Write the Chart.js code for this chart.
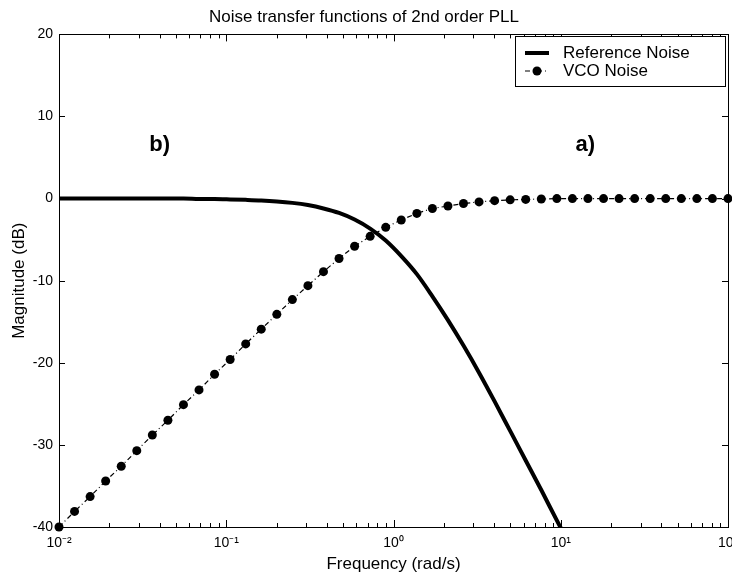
<!DOCTYPE html>
<html>
<head>
<meta charset="utf-8">
<title>Noise transfer functions of 2nd order PLL</title>
<script src="https://cdn.jsdelivr.net/npm/chart.js@4.4.1/dist/chart.umd.min.js"></script>
<style>
  html, body { margin: 0; padding: 0; background: #fff; overflow: hidden; }
  #wrap { width: 750px; height: 575px; }
</style>
</head>
<body>
<div id="wrap"><canvas id="pll" width="750" height="575"></canvas></div>
<script>
// --- data ---
// frequency of every plotted sample (rad/s), log spaced like the VCO markers
const freq = [0.01, 0.01239, 0.01535, 0.01901, 0.02356, 0.02918, 0.03615, 0.04479, 0.05549, 0.06874,
  0.08516, 0.1055, 0.1307, 0.1619, 0.2006, 0.2485, 0.3078, 0.3814, 0.4725, 0.5853,
  0.7251, 0.8983, 1.113, 1.379, 1.708, 2.116, 2.621, 3.247, 4.023, 4.984,
  6.174, 7.649, 9.476, 11.74, 14.54, 18.02, 22.32, 27.65, 34.26, 42.44,
  52.58, 65.14, 80.69, 100];

// magnitude in dB
const vcoNoise = [-40, -38.1, -36.3, -34.4, -32.6, -30.7, -28.8, -27.0, -25.1, -23.3,
  -21.4, -19.6, -17.7, -15.9, -14.1, -12.3, -10.6, -8.9, -7.3, -5.8,
  -4.6, -3.5, -2.6, -1.8, -1.2, -0.9, -0.6, -0.4, -0.25, -0.15,
  -0.1, -0.05, 0, 0, 0, 0, 0, 0, 0, 0,
  0, 0, 0, 0];

// solid curve, runs off the bottom of the axes just past 10 rad/s
const refNoise = [0, 0, 0, 0, 0, 0, 0, 0, 0, -0.05,
  -0.06, -0.1, -0.15, -0.22, -0.34, -0.52, -0.79, -1.2, -1.75, -2.55,
  -3.65, -5.1, -7.0, -9.2, -11.9, -14.8, -17.9, -21.2, -24.7, -28.3,
  -31.9, -35.5, -39.2, -42.8];

const decadeTicks = [0.01, 0.1, 1, 10, 100];
const decadeLabels = ['10\u207B\u00B2', '10\u207B\u00B9', '10\u2070', '10\u00B9', '10\u00B2'];
const magTicks = [-40, -30, -20, -10, 0, 10, 20];

// panel letters, placed in data units
const notes = [
  { text: 'b)', x: 0.04, y: 6.5 },
  { text: 'a)', x: 14, y: 6.5 }
];

const FONT = '"Liberation Sans", Arial, Helvetica, sans-serif';
Chart.defaults.font.family = FONT;
Chart.defaults.color = '#000';

// matlab style box with ticks pointing inwards
const frameTicks = {
  id: 'frameTicks',
  afterDatasetsDraw(chart) {
    const { ctx, chartArea: a, scales: { x, y } } = chart;
    ctx.save();
    ctx.strokeStyle = '#000';
    ctx.lineWidth = 1;
    ctx.beginPath();
    decadeTicks.forEach(d => {
      for (let m = 1; m <= 9; m++) {
        const v = d * m;
        if (v > x.max + 1e-9) break;
        const px = Math.round(x.getPixelForValue(v)) + 0.5;
        const len = m === 1 ? 7 : 4;
        ctx.moveTo(px, a.bottom); ctx.lineTo(px, a.bottom - len);
        ctx.moveTo(px, a.top); ctx.lineTo(px, a.top + len);
      }
    });
    magTicks.forEach(v => {
      const py = Math.round(y.getPixelForValue(v)) + 0.5;
      ctx.moveTo(a.left, py); ctx.lineTo(a.left + 6, py);
      ctx.moveTo(a.right, py); ctx.lineTo(a.right - 6, py);
    });
    ctx.stroke();
    ctx.strokeRect(Math.round(a.left) + 0.5, Math.round(a.top) + 0.5,
      Math.round(a.right - a.left), Math.round(a.bottom - a.top));

    // b) / a)
    ctx.fillStyle = '#000';
    ctx.font = 'bold 22px ' + FONT;
    ctx.textAlign = 'center';
    ctx.textBaseline = 'middle';
    notes.forEach(n => ctx.fillText(n.text, x.getPixelForValue(n.x), y.getPixelForValue(n.y)));
    ctx.restore();
  }
};

// legend box in the top right corner of the axes
const boxLegend = {
  id: 'boxLegend',
  afterDraw(chart) {
    const { ctx, chartArea: a } = chart;
    const w = 210, h = 50;
    const left = Math.round(a.right) - 213, top = Math.round(a.top) + 2;
    ctx.save();
    ctx.fillStyle = '#fff';
    ctx.fillRect(left, top, w, h);
    ctx.strokeStyle = '#000';
    ctx.lineWidth = 1;
    ctx.strokeRect(left + 0.5, top + 0.5, w, h);
    chart.data.datasets.forEach((ds, i) => {
      const cy = top + 17 + i * 18;
      ctx.strokeStyle = ds.borderColor;
      ctx.lineWidth = ds.borderWidth;
      ctx.setLineDash(ds.borderDash || []);
      ctx.beginPath();
      ctx.moveTo(left + 10, cy);
      ctx.lineTo(left + 34, cy);
      ctx.stroke();
      ctx.setLineDash([]);
      if (ds.pointRadius) {
        ctx.fillStyle = ds.pointBackgroundColor;
        ctx.beginPath();
        ctx.arc(left + 22, cy, ds.pointRadius, 0, Math.PI * 2);
        ctx.fill();
      }
      ctx.fillStyle = '#000';
      ctx.font = '17px ' + FONT;
      ctx.textAlign = 'left';
      ctx.textBaseline = 'middle';
      ctx.fillText(ds.label, left + 48, cy);
    });
    ctx.restore();
  }
};

new Chart(document.getElementById('pll'), {
  type: 'line',
  data: {
    datasets: [
      {
        label: 'Reference Noise',
        data: refNoise.map((v, i) => ({ x: freq[i], y: v })),
        borderColor: '#000',
        borderWidth: 4,
        pointRadius: 0,
        cubicInterpolationMode: 'monotone',
        clip: 0
      },
      {
        label: 'VCO Noise',
        data: vcoNoise.map((v, i) => ({ x: freq[i], y: v })),
        borderColor: '#000',
        borderWidth: 1.2,
        borderDash: [5, 3, 1, 3],
        pointRadius: 4.5,
        pointBackgroundColor: '#000',
        pointBorderWidth: 0,
        clip: false
      }
    ]
  },
  options: {
    responsive: false,
    animation: false,
    devicePixelRatio: 1,
    layout: { padding: { top: 0, right: 22, bottom: 0, left: 0 } },
    plugins: {
      legend: { display: false },
      tooltip: { enabled: false },
      title: {
        display: true,
        text: 'Noise transfer functions of 2nd order PLL',
        color: '#000',
        font: { size: 17, weight: 'normal' },
        padding: { top: 7, bottom: 7 }
      }
    },
    scales: {
      x: {
        type: 'logarithmic',
        min: 0.01,
        max: 100,
        grid: { display: false, drawTicks: false },
        border: { display: false },
        afterBuildTicks: s => { s.ticks = decadeTicks.map(v => ({ value: v })); },
        ticks: {
          autoSkip: false,
          maxRotation: 0,
          padding: 8,
          font: { size: 14 },
          callback: v => decadeLabels[decadeTicks.indexOf(v)] ?? ''
        },
        title: { display: true, text: 'Frequency (rad/s)', font: { size: 17 }, padding: { top: 0, bottom: 0 } },
        afterFit: s => { s.height = 48; }
      },
      y: {
        min: -40,
        max: 20,
        grid: { display: false, drawTicks: false },
        border: { display: false },
        afterBuildTicks: s => { s.ticks = magTicks.map(v => ({ value: v })); },
        ticks: { padding: 6, font: { size: 14 } },
        title: { display: true, text: 'Magnitude (dB)', font: { size: 17 }, padding: { top: 9, bottom: 0 } },
        afterFit: s => { s.width = 59; }
      }
    }
  },
  plugins: [frameTicks, boxLegend]
});
</script>
</body>
</html>
